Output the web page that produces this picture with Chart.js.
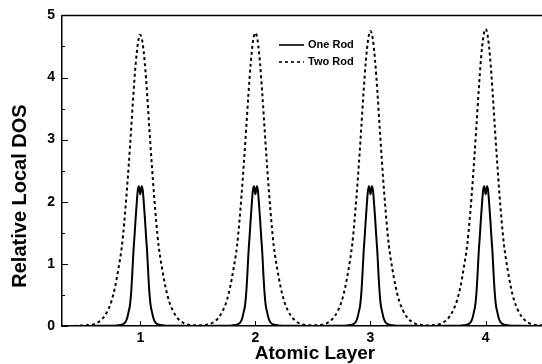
<!DOCTYPE html>
<html><head><meta charset="utf-8">
<script src="https://cdn.jsdelivr.net/npm/chart.js@4/dist/chart.umd.min.js"></script>
<style>html,body{margin:0;padding:0;background:#fff}#wrap{width:542px;height:364px}</style>
</head><body><div id="wrap"><canvas id="c" width="542" height="364"></canvas></div>
<script>
const seriesNames = ["One Rod", "Two Rod"];
const xTickLabels = [1, 2, 3, 4];
const yTickLabels = [0, 1, 2, 3, 4, 5];
const xTitle = "Atomic Layer";
const yTitle = "Relative Local DOS";

const oneRodX = [
  0.32,0.50,0.70,0.80,0.85,0.87,0.885,0.90,0.91,0.92,0.93,0.94,0.95,0.96,0.97,0.978,0.988,1.00,1.012,1.022,1.03,1.04,1.05,1.06,1.07,1.08,1.09,1.10,1.115,1.13,1.15,1.20,1.30,1.50,
  1.70,1.80,1.85,1.87,1.885,1.90,1.91,1.92,1.93,1.94,1.95,1.96,1.97,1.978,1.988,2.00,2.012,2.022,2.03,2.04,2.05,2.06,2.07,2.08,2.09,2.10,2.115,2.13,2.15,2.20,2.30,2.50,
  2.70,2.80,2.85,2.87,2.885,2.90,2.91,2.92,2.93,2.94,2.95,2.96,2.97,2.978,2.988,3.00,3.012,3.022,3.03,3.04,3.05,3.06,3.07,3.08,3.09,3.10,3.115,3.13,3.15,3.20,3.30,3.50,
  3.70,3.80,3.85,3.87,3.885,3.90,3.91,3.92,3.93,3.94,3.95,3.96,3.97,3.978,3.988,4.00,4.012,4.022,4.03,4.04,4.05,4.06,4.07,4.08,4.09,4.10,4.115,4.13,4.15,4.20,4.30,4.49
];
const oneRodY = [
  0,0,0.005,0.01,0.03,0.06,0.12,0.24,0.33,0.52,0.82,1.18,1.45,1.74,2.00,2.18,2.25,2.12,2.25,2.18,2.00,1.74,1.45,1.18,0.82,0.52,0.33,0.24,0.12,0.06,0.03,0.01,0.005,0,
  0.005,0.01,0.03,0.06,0.12,0.24,0.33,0.52,0.82,1.18,1.45,1.74,2.00,2.18,2.25,2.12,2.25,2.18,2.00,1.74,1.45,1.18,0.82,0.52,0.33,0.24,0.12,0.06,0.03,0.01,0.005,0,
  0.005,0.01,0.03,0.06,0.12,0.24,0.33,0.52,0.82,1.18,1.45,1.74,2.00,2.18,2.25,2.12,2.25,2.18,2.00,1.74,1.45,1.18,0.82,0.52,0.33,0.24,0.12,0.06,0.03,0.01,0.005,0,
  0.005,0.01,0.03,0.06,0.12,0.24,0.33,0.52,0.82,1.18,1.45,1.74,2.00,2.18,2.25,2.12,2.25,2.18,2.00,1.74,1.45,1.18,0.82,0.52,0.33,0.24,0.12,0.06,0.03,0.01,0.005,0
];

const twoRodX = [
  0.32,0.40,0.50,0.55,0.60,0.65,0.69,0.72,0.75,0.78,0.81,0.84,0.86,0.88,0.90,0.92,0.94,0.96,0.98,1.00,1.02,1.04,1.06,1.08,1.10,1.12,1.14,1.16,1.19,1.22,1.25,1.28,1.31,1.35,1.40,1.45,1.50,
  1.55,1.60,1.65,1.69,1.72,1.75,1.78,1.81,1.84,1.86,1.88,1.90,1.92,1.94,1.96,1.98,2.00,2.02,2.04,2.06,2.08,2.10,2.12,2.14,2.16,2.19,2.22,2.25,2.28,2.31,2.35,2.40,2.45,2.50,
  2.55,2.60,2.65,2.69,2.72,2.75,2.78,2.81,2.84,2.86,2.88,2.90,2.92,2.94,2.96,2.98,3.00,3.02,3.04,3.06,3.08,3.10,3.12,3.14,3.16,3.19,3.22,3.25,3.28,3.31,3.35,3.40,3.45,3.50,
  3.55,3.60,3.65,3.69,3.72,3.75,3.78,3.81,3.84,3.86,3.88,3.90,3.92,3.94,3.96,3.98,4.00,4.02,4.04,4.06,4.08,4.10,4.12,4.14,4.16,4.19,4.22,4.25,4.28,4.31,4.35,4.40,4.45,4.49
];
const twoRodY = [
  0.00,0.00,0.01,0.015,0.03,0.08,0.16,0.26,0.40,0.62,0.92,1.28,1.65,2.10,2.60,3.15,3.72,4.22,4.56,4.69,4.56,4.22,3.72,3.15,2.60,2.10,1.65,1.28,0.92,0.62,0.40,0.26,0.16,0.08,0.03,0.015,0.01,
  0.015,0.03,0.08,0.16,0.26,0.40,0.62,0.92,1.28,1.66,2.11,2.62,3.17,3.74,4.24,4.59,4.72,4.59,4.24,3.74,3.17,2.62,2.11,1.66,1.28,0.92,0.62,0.40,0.26,0.16,0.08,0.03,0.015,0.01,
  0.015,0.03,0.08,0.16,0.26,0.40,0.62,0.92,1.29,1.67,2.12,2.63,3.19,3.77,4.27,4.62,4.75,4.62,4.27,3.77,3.19,2.63,2.12,1.67,1.29,0.92,0.62,0.40,0.26,0.16,0.08,0.03,0.015,0.01,
  0.015,0.03,0.08,0.16,0.26,0.40,0.62,0.93,1.30,1.68,2.13,2.65,3.21,3.79,4.30,4.65,4.78,4.65,4.30,3.79,3.21,2.65,2.13,1.68,1.30,0.93,0.62,0.40,0.26,0.16,0.08,0.03,0.015,0.01
];

const FONT = "'Liberation Sans', Arial, Helvetica, sans-serif";
const toPts = (xs, ys) => xs.map((x, i) => ({ x: x, y: ys[i] }));

const frame = {
  id: 'frame',
  afterDraw(chart) {
    const { ctx, chartArea: a, scales: { x, y } } = chart;
    ctx.save();
    ctx.strokeStyle = '#000';
    ctx.lineWidth = 1.5;
    ctx.beginPath();
    ctx.moveTo(a.left, a.top); ctx.lineTo(a.right, a.top);
    ctx.stroke();
    ctx.lineWidth = 1;
    ctx.beginPath();
    for (let v = 0; v <= 5.001; v += 0.5) {
      const py = Math.round(y.getPixelForValue(v)) + 0.5;
      const len = Math.abs(v - Math.round(v)) < 1e-6 ? 6 : 3;
      ctx.moveTo(a.left, py); ctx.lineTo(a.left + len, py);
    }
    xTickLabels.forEach(v => {
      const px = Math.round(x.getPixelForValue(v)) + 0.5;
      ctx.moveTo(px, a.bottom); ctx.lineTo(px, a.bottom - 5);
    });
    ctx.stroke();
    // legend
    const lx0 = 279, lx1 = 304, ly1 = 45, ly2 = 62;
    ctx.lineWidth = 1.6;
    ctx.beginPath(); ctx.moveTo(lx0, ly1); ctx.lineTo(lx1, ly1); ctx.stroke();
    ctx.setLineDash([3, 3]);
    ctx.beginPath(); ctx.moveTo(lx0, ly2); ctx.lineTo(lx1, ly2); ctx.stroke();
    ctx.setLineDash([]);
    ctx.fillStyle = '#000';
    ctx.font = 'bold 11px ' + FONT;
    ctx.textBaseline = 'middle';
    ctx.textAlign = 'left';
    ctx.fillText(seriesNames[0], 308, ly1);
    ctx.fillText(seriesNames[1], 308, ly2);
    // axis titles
    ctx.textAlign = 'center';
    ctx.textBaseline = 'alphabetic';
    ctx.font = 'bold 19px ' + FONT;
    ctx.fillText(xTitle, 315, 359);
    ctx.translate(26, 196);
    ctx.rotate(-Math.PI / 2);
    ctx.font = 'bold 20px ' + FONT;
    ctx.fillText(yTitle, 0, 0);
    ctx.restore();
  }
};

new Chart(document.getElementById('c'), {
  type: 'line',
  data: {
    datasets: [
      { label: seriesNames[0], data: toPts(oneRodX, oneRodY), borderColor: '#000', borderWidth: 2,
        pointRadius: 0, cubicInterpolationMode: 'monotone', fill: false },
      { label: seriesNames[1], data: toPts(twoRodX, twoRodY), borderColor: '#000', borderWidth: 2,
        borderDash: [3, 3], pointRadius: 0, cubicInterpolationMode: 'monotone', fill: false }
    ]
  },
  options: {
    responsive: false,
    animation: false,
    events: [],
    layout: { padding: { top: 15, right: 0, left: 0, bottom: 0 } },
    plugins: { legend: { display: false }, tooltip: { enabled: false } },
    scales: {
      x: {
        type: 'linear', min: 0.32, max: 4.49,
        afterBuildTicks: s => { s.ticks = xTickLabels.map(v => ({ value: v })); },
        afterFit: s => { s.height = 38; },
        grid: { display: false, drawTicks: false },
        border: { display: true, color: '#000', width: 1.5 },
        ticks: { color: '#000', font: { family: FONT, size: 14, weight: 'bold' }, padding: 4,
                 autoSkip: false, maxRotation: 0, callback: v => String(v) },
        title: { display: false }
      },
      y: {
        min: 0, max: 5,
        afterBuildTicks: s => { s.ticks = yTickLabels.map(v => ({ value: v })); },
        afterFit: s => { s.width = 62; },
        grid: { display: false, drawTicks: false },
        border: { display: true, color: '#000', width: 1.5 },
        ticks: { color: '#000', font: { family: FONT, size: 14, weight: 'bold' }, padding: 7,
                 callback: v => String(v) },
        title: { display: false }
      }
    }
  },
  plugins: [frame]
});
</script>
</body></html>
